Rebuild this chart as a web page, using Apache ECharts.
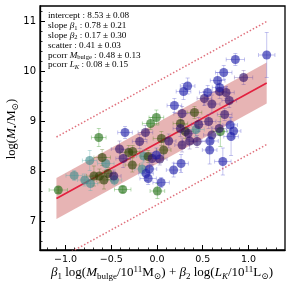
<!DOCTYPE html>
<html><head><meta charset="utf-8">
<script src="https://cdn.jsdelivr.net/npm/echarts@6/dist/echarts.min.js"></script>
<style>html,body{margin:0;padding:0;background:#fff}#c{width:291px;height:289px}</style>
</head><body><div id="c"></div>
<script>
// points: [x, y, xerr, yerr]
const greenPts = [[-1.08,7.62,0.10,0.06],[-0.637,8.67,0.08,0.18],[-0.375,7.63,0.09,0.06],[0.004,7.60,0.08,0.15],[-0.007,9.07,0.08,0.15],[-0.07,8.95,0.09,0.12],[0.693,8.79,0.08,0.30]];
const tealPts = [[-0.906,7.91,0.09,0.10],[-0.79,7.82,0.08,0.12],[-0.736,8.21,0.08,0.20],[-0.728,7.75,0.08,0.14],[-0.56,8.15,0.09,0.12],[-0.466,7.82,0.08,0.10],[-0.146,8.30,0.08,0.12],[-0.163,8.04,0.08,0.12],[0.427,8.83,0.09,0.14]];
const olivePts = [[-0.69,7.90,0.08,0.20],[-0.63,7.90,0.08,0.14],[-0.60,8.27,0.09,0.16],[-0.58,7.82,0.08,0.18],[-0.535,7.95,0.08,0.12],[-0.31,8.37,0.09,0.14],[-0.266,8.39,0.08,0.12],[-0.27,8.12,0.08,0.14],[-0.097,8.29,0.08,0.12],[0.048,8.65,0.09,0.14],[0.073,8.42,0.08,0.16],[0.256,8.95,0.08,0.12],[0.31,8.79,0.09,0.14],[0.41,9.17,0.08,0.12]];
const purplePts = [[-0.473,7.90,0.08,0.12],[-0.41,8.44,0.09,0.16],[-0.37,8.25,0.08,0.18],[-0.19,8.59,0.08,0.14],[-0.127,8.77,0.08,0.14],[-0.054,8.25,0.09,0.12],[0.03,8.24,0.08,0.12],[0.128,8.60,0.08,0.14],[0.274,9.15,0.09,0.14],[0.256,8.85,0.08,0.16],[0.34,8.75,0.08,0.12],[0.357,8.60,0.08,0.16],[0.274,8.52,0.08,0.14],[0.438,8.59,0.09,0.12],[0.456,8.93,0.08,0.14],[0.565,8.99,0.08,0.14],[0.60,8.72,0.09,0.16],[0.68,8.85,0.08,0.14],[0.74,9.13,0.08,0.12],[0.518,9.45,0.08,0.14],[0.60,9.34,0.09,0.18],[0.79,9.41,0.08,0.14],[0.685,9.59,0.08,0.14],[0.755,9.57,0.09,0.12],[0.947,9.87,0.10,0.14]];
const bluePts = [[-0.35,8.77,0.08,0.12],[0.19,9.31,0.08,0.14],[0.29,9.59,0.08,0.16],[0.335,9.70,0.08,0.16],[0.554,9.57,0.09,0.14],[0.663,9.81,0.08,0.16],[0.685,9.67,0.08,0.14],[0.73,9.97,0.09,0.14],[0.857,10.23,0.10,0.12],[1.20,10.32,0.09,0.45],[-0.007,8.32,0.08,0.14],[-0.12,7.95,0.08,0.14],[-0.083,8.04,0.08,0.12],[-0.097,7.85,0.09,0.12],[0.182,8.02,0.08,0.14],[0.263,8.15,0.08,0.18],[0.045,7.77,0.09,0.10],[0.80,8.92,0.08,0.16],[0.838,8.80,0.08,0.14],[0.81,8.69,0.08,0.38],[0.58,8.60,0.09,0.14],[0.576,8.42,0.08,0.28],[0.72,8.19,0.09,0.27]];

const fitX = [-1.1, 1.2];
const fitY = [7.45, 9.76];
const bandLo = [7.04, 9.35];
const bandHi = [7.86, 10.17];
const outerLo = [6.22, 8.53];
const outerHi = [8.68, 10.99];

const xMajor = [-1.0, -0.5, 0.0, 0.5, 1.0];
const xMinor = [-1.2,-1.1,-0.9,-0.8,-0.7,-0.6,-0.4,-0.3,-0.2,-0.1,0.1,0.2,0.3,0.4,0.6,0.7,0.8,0.9,1.1,1.2,1.3];
const yMajor = [7, 8, 9, 10, 11];
const yMinor = [6.6,6.8,7.2,7.4,7.6,7.8,8.2,8.4,8.6,8.8,9.2,9.4,9.6,9.8,10.2,10.4,10.6,10.8,11.2];

const groups = [
  {pts: greenPts, color: '#1e6e12', bar: '#3a9a2a'},
  {pts: tealPts, color: '#3f8c8c', bar: '#5aacac'},
  {pts: olivePts, color: '#2e4206', bar: '#5a7a20'},
  {pts: purplePts, color: '#2f0e6a', bar: '#6a50a8'},
  {pts: bluePts, color: '#1a1aa6', bar: '#5a5ad0'}
];

const chart = echarts.init(document.getElementById('c'), null, {renderer: 'canvas'});
const serif = '"Liberation Serif","DejaVu Serif",serif';

function errRender(color) {
  return function (params, api) {
    const x = api.value(0), y = api.value(1), xe = api.value(2), ye = api.value(3);
    const l = api.coord([x - xe, y]), r = api.coord([x + xe, y]);
    const t = api.coord([x, y + ye]), b = api.coord([x, y - ye]);
    const cap = 2;
    const st = {stroke: color, lineWidth: 1, opacity: 0.35};
    const ln = (x1, y1, x2, y2) => ({type: 'line', shape: {x1, y1, x2, y2}, style: st});
    return {type: 'group', children: [
      ln(l[0], l[1], r[0], r[1]), ln(t[0], t[1], b[0], b[1]),
      ln(l[0], l[1] - cap, l[0], l[1] + cap), ln(r[0], r[1] - cap, r[0], r[1] + cap),
      ln(t[0] - cap, t[1], t[0] + cap, t[1]), ln(b[0] - cap, b[1], b[0] + cap, b[1])
    ]};
  };
}

const series = [];
series.push({
  type: 'custom', xAxisIndex: 0, yAxisIndex: 0, silent: true, z: 1,
  data: [[fitX[0], fitX[1]]],
  renderItem: function (params, api) {
    const p = [api.coord([fitX[0], bandLo[0]]), api.coord([fitX[1], bandLo[1]]),
               api.coord([fitX[1], bandHi[1]]), api.coord([fitX[0], bandHi[0]])];
    return {type: 'polygon', shape: {points: p}, style: {fill: '#cf6a6a', opacity: 0.5}};
  }
});
series.push({type: 'line', data: [[fitX[0], outerHi[0]], [fitX[1], outerHi[1]]], symbol: 'none', z: 2,
  lineStyle: {color: '#e0707c', width: 1.5, type: [1.5, 2]}, clip: true});
series.push({type: 'line', data: [[fitX[0], outerLo[0]], [fitX[1], outerLo[1]]], symbol: 'none', z: 2,
  lineStyle: {color: '#e0707c', width: 1.5, type: [1.5, 2]}, clip: true});
series.push({type: 'line', data: [[fitX[0], fitY[0]], [fitX[1], fitY[1]]], symbol: 'none', z: 3,
  lineStyle: {color: '#e3203e', width: 1.6}});
groups.forEach(g => {
  series.push({type: 'custom', data: g.pts, renderItem: errRender(g.bar), z: 4, silent: true,
    encode: {x: 0, y: 1}});
});
groups.forEach(g => {
  series.push({type: 'scatter', data: g.pts.map(p => [p[0], p[1]]), symbolSize: 9, z: 5,
    itemStyle: {color: g.color, opacity: 0.62}});
});

const fmt = v => (v < 0 ? '\u2212' : '') + Math.abs(v).toFixed(1);
const statBase = {fontSize: 9.2, fontFamily: serif, fill: '#000'};
const statRich = {
  i: {fontSize: 9.2, fontFamily: serif, fontStyle: 'italic'},
  s: {fontSize: 6.5, fontFamily: serif, verticalAlign: 'bottom', lineHeight: 11},
  si: {fontSize: 6.5, fontFamily: serif, fontStyle: 'italic', verticalAlign: 'bottom', lineHeight: 11}
};
const statLines = [
  'intercept : 8.53 ± 0.08',
  'slope {i|β}{s|1} : 0.78 ± 0.21',
  'slope {i|β}{s|2} : 0.17 ± 0.30',
  'scatter : 0.41 ± 0.03',
  'pcorr {i|M}{s|bulge} : 0.48 ± 0.13',
  'pcorr {i|L}{si|K} : 0.08 ± 0.15'
];
const graphics = statLines.map((t, k) => ({
  type: 'text', x: 48, y: 16 + k * 9.8, z: 10,
  style: Object.assign({text: t, rich: statRich, textVerticalAlign: 'middle', lineHeight: 11}, statBase)
}));
const labRich = {
  i: {fontSize: 13, fontFamily: serif, fontStyle: 'italic'},
  s: {fontSize: 9, fontFamily: serif, verticalAlign: 'bottom', lineHeight: 16},
  si: {fontSize: 9, fontFamily: serif, fontStyle: 'italic', verticalAlign: 'bottom', lineHeight: 16},
  sup: {fontSize: 9, fontFamily: serif, verticalAlign: 'top', lineHeight: 16}
};
graphics.push({type: 'text', x: 12, y: 129, rotation: Math.PI / 2, z: 10,
  style: {text: 'log({i|M}{s|•}/M{s|⊙})', rich: labRich, fontSize: 12.5, fontFamily: serif, fill: '#000',
    textAlign: 'center', textVerticalAlign: 'middle', lineHeight: 16}});
graphics.push({type: 'text', x: 162, y: 273, z: 10,
  style: {text: '{i|β}{s|1} log({i|M}{s|bulge}/10{sup|11}M{s|⊙}) + {i|β}{s|2} log({i|L}{si|K}/10{sup|11}L{s|⊙})',
    rich: labRich, fontSize: 13, fontFamily: serif, fill: '#000',
    textAlign: 'center', textVerticalAlign: 'middle', lineHeight: 16}});

const axLine = {show: true, onZero: false, lineStyle: {color: '#000', width: 1.3}};
chart.setOption({
  animation: false,
  grid: {left: 40, right: 6, top: 6, bottom: 39, show: true, borderColor: '#000', borderWidth: 1.3, backgroundColor: 'transparent'},
  xAxis: [
    {type: 'value', min: -1.28, max: 1.40, position: 'bottom', axisLine: axLine, splitLine: {show: false},
      axisTick: {show: true, inside: true, length: 5, customValues: xMajor, lineStyle: {color: '#000', width: 1}},
      axisLabel: {customValues: xMajor, formatter: fmt, fontFamily: '"DejaVu Sans"', fontSize: 9.5, color: '#000', margin: 5}},
    {type: 'value', min: -1.28, max: 1.40, position: 'bottom', axisLine: {show: false, onZero: false}, splitLine: {show: false},
      axisTick: {show: true, inside: true, length: 2.5, customValues: xMinor, lineStyle: {color: '#000', width: 0.8}},
      axisLabel: {show: false}}
  ],
  yAxis: [
    {type: 'value', min: 6.42, max: 11.3, position: 'left', axisLine: axLine, splitLine: {show: false},
      axisTick: {show: true, inside: true, length: 5, customValues: yMajor, lineStyle: {color: '#000', width: 1}},
      axisLabel: {customValues: yMajor, fontFamily: '"DejaVu Sans"', fontSize: 10, color: '#000', margin: 4}},
    {type: 'value', min: 6.42, max: 11.3, position: 'left', axisLine: {show: false, onZero: false}, splitLine: {show: false},
      axisTick: {show: true, inside: true, length: 2.5, customValues: yMinor, lineStyle: {color: '#000', width: 0.8}},
      axisLabel: {show: false}}
  ],
  series: series,
  graphic: graphics
});
</script></body></html>
